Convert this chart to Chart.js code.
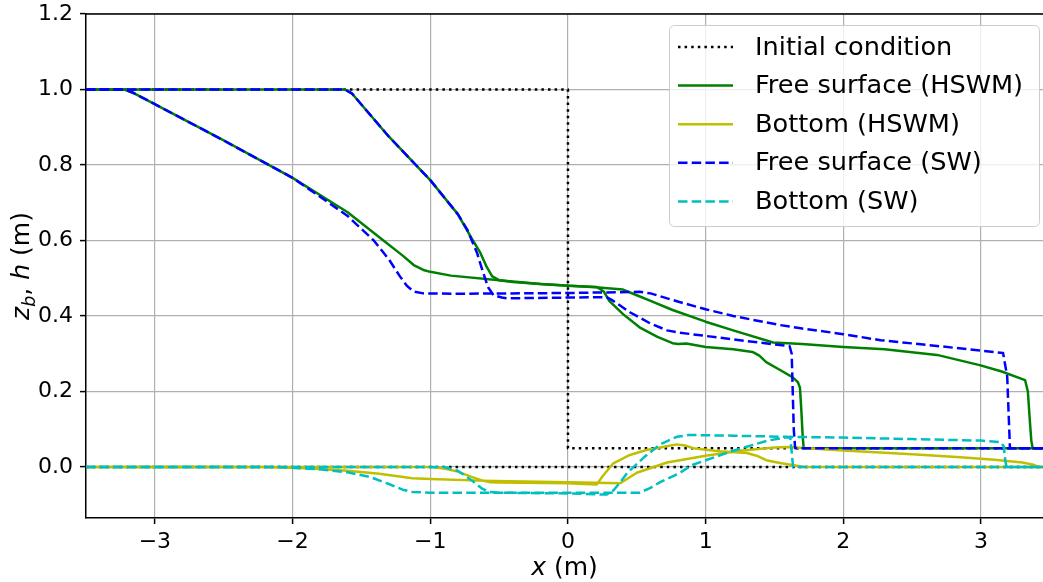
<!DOCTYPE html>
<html>
<head>
<meta charset="utf-8">
<script src="https://cdn.jsdelivr.net/npm/chart.js@4.4.0/dist/chart.umd.min.js"></script>
<style>
  html, body { margin: 0; padding: 0; background: #fff; }
  #wrap { width: 1043px; height: 582px; }
</style>
</head>
<body>
<div id="wrap"><canvas id="chart" width="1043" height="582"></canvas></div>
<script>
// ticks
const xTicks = [-3, -2, -1, 0, 1, 2, 3];
const yTicks = [0, 0.2, 0.4, 0.6, 0.8, 1.0, 1.2];

const legendLabels = ['Initial condition', 'Free surface (HSWM)', 'Bottom (HSWM)', 'Free surface (SW)', 'Bottom (SW)'];

// initial condition (h and zb)
const initHX = [-3.5, 0, 0, 3.45];
const initHY = [1, 1, 0.05, 0.05];
const initZbX = [-3.5, 3.45];
const initZbY = [0, 0];

// free surface HSWM, first time
const hswmSurfT1X = [-3.5, -1.62, -1.57, -1.3, -1.0, -0.8, -0.69, -0.64, -0.59, -0.55, -0.5, -0.4, -0.2, 0.0, 0.21, 0.26, 0.3, 0.4, 0.52, 0.65, 0.76, 0.8, 0.86, 1.0, 1.2, 1.34, 1.39, 1.44, 1.55, 1.63, 1.67, 1.685, 1.695, 1.705, 1.712, 3.45];
const hswmSurfT1Y = [1.0, 1.0, 0.99, 0.875, 0.76, 0.67, 0.6, 0.57, 0.53, 0.505, 0.495, 0.49, 0.485, 0.48, 0.477, 0.465, 0.44, 0.405, 0.37, 0.345, 0.328, 0.326, 0.327, 0.318, 0.312, 0.305, 0.295, 0.278, 0.255, 0.238, 0.225, 0.21, 0.15, 0.08, 0.05, 0.05];
// free surface HSWM, second time
const hswmSurfT2X = [-3.5, -3.22, -3.15, -2.5, -2.0, -1.6, -1.34, -1.2, -1.12, -1.05, -1.0, -0.85, -0.5, -0.2, 0.2, 0.4, 0.5, 0.6, 0.76, 1.0, 1.2, 1.49, 1.7, 2.0, 2.3, 2.68, 2.99, 3.15, 3.32, 3.34, 3.355, 3.365, 3.375, 3.45];
const hswmSurfT2Y = [1.0, 1.0, 0.99, 0.865, 0.766, 0.675, 0.6, 0.56, 0.535, 0.522, 0.517, 0.507, 0.495, 0.485, 0.476, 0.47, 0.455, 0.44, 0.416, 0.385, 0.362, 0.33, 0.326, 0.318, 0.312, 0.297, 0.27, 0.253, 0.23, 0.2, 0.12, 0.07, 0.05, 0.05];

// bottom HSWM
const hswmBedT1X = [-3.5, -1.0, -0.9, -0.8, -0.7, -0.62, -0.57, -0.5, 0.0, 0.21, 0.25, 0.33, 0.45, 0.57, 0.7, 0.79, 0.85, 0.91, 1.1, 1.3, 1.37, 1.44, 1.55, 1.65, 1.72, 3.45];
const hswmBedT1Y = [0, 0, -0.004, -0.012, -0.026, -0.036, -0.04, -0.041, -0.043, -0.046, -0.025, 0.01, 0.032, 0.045, 0.054, 0.06, 0.057, 0.05, 0.042, 0.037, 0.03, 0.018, 0.01, 0.004, 0, 0];
const hswmBedT2X = [-3.5, -2.2, -1.9, -1.6, -1.37, -1.13, -1.0, -0.64, 0.0, 0.38, 0.5, 0.72, 1.0, 1.25, 1.5, 1.6, 2.0, 2.5, 2.85, 3.1, 3.3, 3.38, 3.42, 3.45];
const hswmBedT2Y = [0, 0, -0.003, -0.01, -0.018, -0.03, -0.032, -0.036, -0.04, -0.043, -0.015, 0.012, 0.03, 0.043, 0.052, 0.053, 0.044, 0.034, 0.026, 0.019, 0.012, 0.006, 0, 0];

// free surface SW
const swSurfT1X = [-3.5, -1.62, -1.57, -1.3, -1.0, -0.8, -0.73, -0.66, -0.62, -0.58, -0.54, -0.48, -0.44, 0.28, 0.33, 0.45, 0.6, 0.72, 0.81, 1.2, 1.61, 1.625, 1.64, 1.65, 3.45];
const swSurfT1Y = [1.0, 1.0, 0.99, 0.875, 0.76, 0.67, 0.628, 0.567, 0.52, 0.476, 0.455, 0.449, 0.447, 0.45, 0.44, 0.41, 0.38, 0.362, 0.356, 0.338, 0.32, 0.3, 0.1, 0.05, 0.05];
const swSurfT2X = [-3.5, -3.22, -3.15, -2.5, -2.0, -1.8, -1.6, -1.41, -1.3, -1.22, -1.17, -1.12, -1.05, -0.8, 0.0, 0.52, 0.6, 0.81, 1.0, 1.2, 1.54, 1.68, 2.0, 2.27, 2.7, 3.16, 3.19, 3.21, 3.45];
const swSurfT2Y = [1.0, 1.0, 0.99, 0.865, 0.766, 0.716, 0.665, 0.6, 0.55, 0.505, 0.48, 0.465, 0.46, 0.459, 0.461, 0.464, 0.46, 0.437, 0.418, 0.4, 0.376, 0.368, 0.352, 0.336, 0.32, 0.302, 0.24, 0.05, 0.05];

// bottom SW
const swBedT1X = [-3.5, -0.9, -0.8, -0.7, -0.62, -0.57, -0.5, 0.0, 0.28, 0.33, 0.38, 0.43, 0.55, 0.67, 0.79, 0.88, 1.2, 1.59, 1.615, 1.625, 1.635, 3.45];
const swBedT1Y = [0, 0, -0.01, -0.035, -0.058, -0.066, -0.068, -0.07, -0.073, -0.062, -0.04, -0.016, 0.025, 0.06, 0.08, 0.085, 0.083, 0.08, 0.076, 0.04, 0, 0];
const swBedT2X = [-3.5, -2.1, -1.8, -1.6, -1.44, -1.3, -1.2, -1.13, -1.0, 0.52, 0.6, 0.67, 0.81, 0.9, 1.2, 1.45, 1.61, 2.0, 2.5, 3.0, 3.14, 3.165, 3.175, 3.185, 3.45];
const swBedT2Y = [0, 0, -0.006, -0.014, -0.026, -0.045, -0.06, -0.066, -0.068, -0.068, -0.055, -0.04, -0.016, 0.005, 0.043, 0.07, 0.08, 0.078, 0.074, 0.07, 0.066, 0.055, 0.02, 0, 0];

const FONT = 'DejaVu Sans';
const DOTTED = [2.5, 4.1];
const DASHED = [9.5, 4.2];

function pts(xs, ys) {
    return xs.map((x, i) => ({ x: x, y: ys[i] }));
}

function makeSet(label, xs, ys, color, dash, order) {
    return {
        label: label,
        data: pts(xs, ys),
        borderColor: color,
        backgroundColor: color,
        borderWidth: 2.5,
        borderDash: dash,
        borderCapStyle: 'butt',
        borderJoinStyle: 'round',
        pointRadius: 0,
        tension: 0,
        fill: false,
        order: order
    };
}

function fmtX(v) {
    return v < 0 ? '\u2212' + Math.abs(v) : String(v);
}

// draws text pieces [text, italic, subscript] centred on cx
function drawRich(ctx, parts, cx, baseY, size) {
    const fontOf = (p) => (p[1] ? 'italic ' : '') + (p[2] ? size * 0.7 : size) + 'px "' + FONT + '"';
    let total = 0;
    parts.forEach(p => { ctx.font = fontOf(p); total += ctx.measureText(p[0]).width; });
    let x = cx - total / 2;
    ctx.fillStyle = '#000';
    ctx.textBaseline = 'alphabetic';
    ctx.textAlign = 'left';
    parts.forEach(p => {
        ctx.font = fontOf(p);
        ctx.fillText(p[0], x, baseY + (p[2] ? size * 0.22 : 0));
        x += ctx.measureText(p[0]).width;
    });
}

const overlay = {
    id: 'overlay',
    afterDraw(chart) {
        const ctx = chart.ctx;
        const a = chart.chartArea;
        ctx.save();

        // top spine
        ctx.strokeStyle = '#000';
        ctx.lineWidth = 1.5;
        ctx.beginPath();
        ctx.moveTo(a.left, a.top);
        ctx.lineTo(a.right, a.top);
        ctx.stroke();

        // axis titles
        drawRich(ctx, [['x', true, false], [' (m)', false, false]], (a.left + a.right) / 2, 575, 25);
        ctx.save();
        ctx.translate(29, (a.top + a.bottom) / 2);
        ctx.rotate(-Math.PI / 2);
        drawRich(ctx, [['z', true, false], ['b', true, true], [', ', false, false], ['h', true, false], [' (m)', false, false]], 0, 0, 25);
        ctx.restore();

        // legend box
        const bx = 669.5, by = 25.5, bw = 370, bh = 201, r = 5;
        ctx.beginPath();
        ctx.moveTo(bx + r, by);
        ctx.arcTo(bx + bw, by, bx + bw, by + bh, r);
        ctx.arcTo(bx + bw, by + bh, bx, by + bh, r);
        ctx.arcTo(bx, by + bh, bx, by, r);
        ctx.arcTo(bx, by, bx + bw, by, r);
        ctx.closePath();
        ctx.fillStyle = 'rgba(255,255,255,0.8)';
        ctx.fill();
        ctx.strokeStyle = '#cccccc';
        ctx.lineWidth = 1;
        ctx.stroke();

        const shown = [0, 2, 4, 6, 8];
        shown.forEach((di, i) => {
            const d = chart.data.datasets[di];
            const yy = 47 + i * 38.6;
            ctx.strokeStyle = d.borderColor;
            ctx.lineWidth = d.borderWidth;
            ctx.setLineDash(d.borderDash);
            ctx.lineCap = 'butt';
            ctx.beginPath();
            ctx.moveTo(678, yy);
            ctx.lineTo(733, yy);
            ctx.stroke();
            ctx.setLineDash([]);
            ctx.fillStyle = '#000';
            ctx.font = '25.6px "' + FONT + '"';
            ctx.textAlign = 'left';
            ctx.textBaseline = 'middle';
            ctx.fillText(legendLabels[i], 755, yy + 1);
        });

        ctx.restore();
    }
};

const datasets = [
    makeSet(legendLabels[0], initHX, initHY, '#000000', DOTTED, 10),
    makeSet('', initZbX, initZbY, '#000000', DOTTED, 10),
    makeSet(legendLabels[1], hswmSurfT1X, hswmSurfT1Y, '#008000', [], 8),
    makeSet('', hswmSurfT2X, hswmSurfT2Y, '#008000', [], 8),
    makeSet(legendLabels[2], hswmBedT1X, hswmBedT1Y, '#bfbf00', [], 6),
    makeSet('', hswmBedT2X, hswmBedT2Y, '#bfbf00', [], 6),
    makeSet(legendLabels[3], swSurfT1X, swSurfT1Y, '#0000ff', DASHED, 4),
    makeSet('', swSurfT2X, swSurfT2Y, '#0000ff', DASHED, 4),
    makeSet(legendLabels[4], swBedT1X, swBedT1Y, '#00bfbf', DASHED, 2),
    makeSet('', swBedT2X, swBedT2Y, '#00bfbf', DASHED, 2)
];

const tickFont = { family: FONT, size: 22 };
// small line height so the top label does not push the plot area down
const yTickFont = { family: FONT, size: 22, lineHeight: 0.5 };

new Chart(document.getElementById('chart').getContext('2d'), {
    type: 'line',
    data: { datasets: datasets },
    options: {
        responsive: false,
        animation: false,
        events: [],
        layout: { padding: { top: 14, left: 0, right: 0, bottom: 0 } },
        plugins: {
            legend: { display: false },
            tooltip: { enabled: false }
        },
        scales: {
            x: {
                type: 'linear',
                min: -3.5,
                max: 3.45,
                afterBuildTicks: (s) => { s.ticks = xTicks.map(v => ({ value: v })); },
                afterFit: (s) => { s.height = 64; },
                grid: { color: '#b0b0b0', lineWidth: 1.2, drawTicks: true, tickLength: 6, tickColor: '#000', tickWidth: 1.5 },
                border: { color: '#000', width: 1.5 },
                ticks: { font: tickFont, color: '#000', padding: 5, maxRotation: 0, autoSkip: false, callback: (v) => fmtX(v) }
            },
            y: {
                type: 'linear',
                min: -0.135,
                max: 1.2,
                afterBuildTicks: (s) => { s.ticks = yTicks.map(v => ({ value: v })); },
                afterFit: (s) => { s.width = 86; },
                grid: { color: '#b0b0b0', lineWidth: 1.2, drawTicks: true, tickLength: 6, tickColor: '#000', tickWidth: 1.5 },
                border: { color: '#000', width: 1.5 },
                ticks: { font: yTickFont, color: '#000', padding: 7, autoSkip: false, callback: (v) => v.toFixed(1) }
            }
        }
    },
    plugins: [overlay]
});
</script>
</body>
</html>
